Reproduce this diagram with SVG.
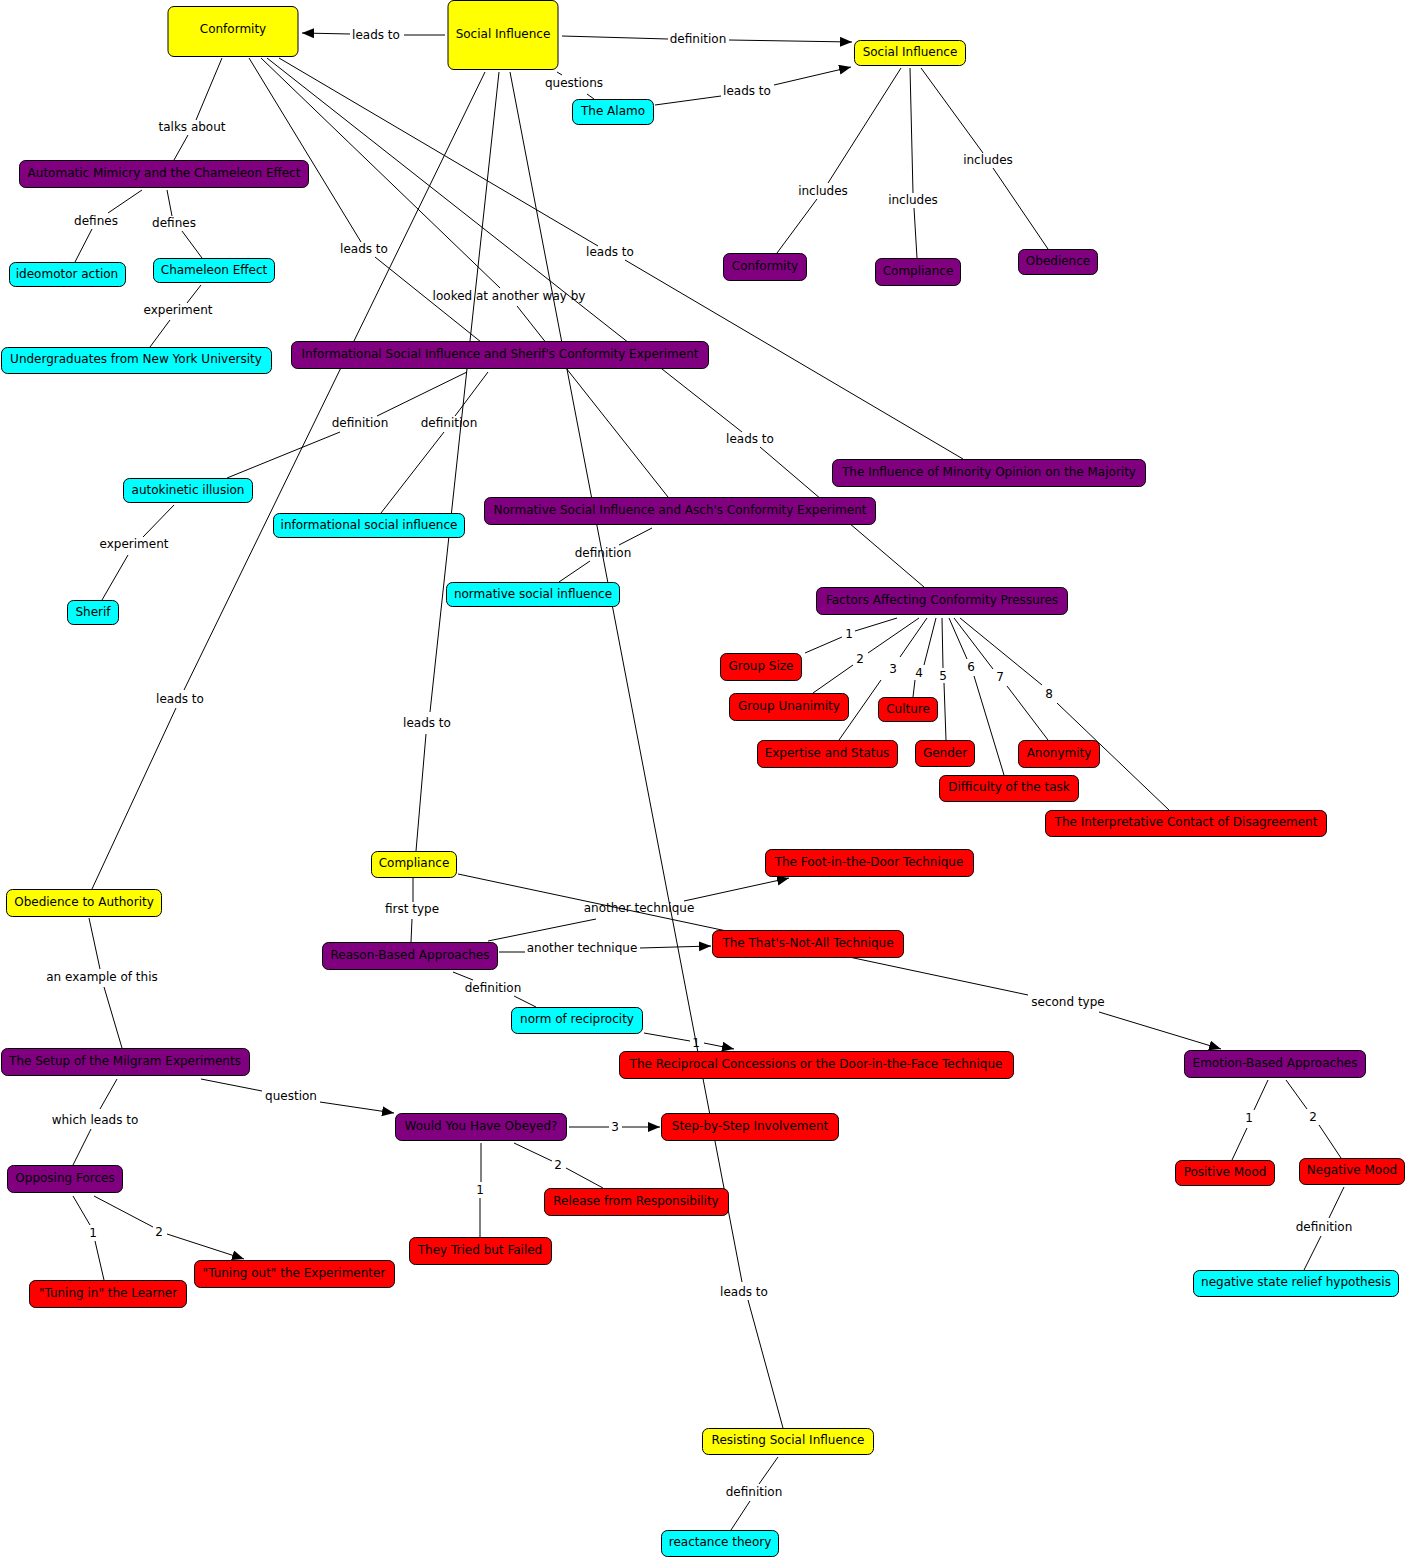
<svg xmlns="http://www.w3.org/2000/svg" width="1407" height="1559" viewBox="0 0 1407 1559">
<style>
text{font-family:"DejaVu Sans",Verdana,sans-serif;font-size:12px;fill:#000}
.n rect{stroke:#000;stroke-width:1}
.n text{text-anchor:middle;transform:translate(0px,-1px)}
.y rect{fill:#ffff00}
.p rect{fill:#800080}
.b rect{fill:#00ffff}
.r rect{fill:#ff0000}
#connectors line{stroke:#000;stroke-width:1}
#connectors text{text-anchor:middle}
.ar{marker-end:url(#arr)}
</style>
<defs>
<marker id="arr" markerUnits="userSpaceOnUse" markerWidth="13" markerHeight="11" refX="12" refY="5" orient="auto">
<path d="M0,0 L12,5 L0,10 z" fill="#000"/>
</marker>
</defs>
<rect width="1407" height="1559" fill="#fff"/>
<g id="connectors">
<line x1="445" y1="35" x2="404" y2="35"/><text x="376" y="39">leads to</text><line class="ar" x1="350" y1="34" x2="302" y2="33"/>
<line x1="562" y1="36" x2="668" y2="39"/><text x="698" y="43">definition</text><line class="ar" x1="729" y1="40" x2="852" y2="42"/>
<line x1="557" y1="72" x2="562" y2="75"/><text x="574" y="87">questions</text><line x1="587" y1="94" x2="594" y2="99"/>
<line x1="655" y1="105" x2="721" y2="96"/><text x="747" y="95">leads to</text><line class="ar" x1="774" y1="85" x2="851" y2="67"/>
<line x1="901" y1="68" x2="828" y2="183"/><text x="823" y="195">includes</text><line x1="817" y1="199" x2="777" y2="253"/>
<line x1="910" y1="68" x2="913" y2="193"/><text x="913" y="204">includes</text><line x1="914" y1="208" x2="917" y2="258"/>
<line x1="921" y1="68" x2="983" y2="153"/><text x="988" y="164">includes</text><line x1="993" y1="168" x2="1048" y2="249"/>
<line x1="222" y1="58" x2="196" y2="120"/><text x="192" y="131">talks about</text><line x1="188" y1="135" x2="174" y2="160"/>
<line x1="142" y1="190" x2="108" y2="213"/><text x="96" y="225">defines</text><line x1="92" y1="229" x2="75" y2="262"/>
<line x1="167" y1="190" x2="172" y2="216"/><text x="174" y="227">defines</text><line x1="182" y1="231" x2="202" y2="258"/>
<line x1="201" y1="285" x2="187" y2="303"/><text x="178" y="314">experiment</text><line x1="170" y1="320" x2="150" y2="347"/>
<line x1="249" y1="58" x2="361" y2="242"/><text x="364" y="253">leads to</text><line x1="375" y1="257" x2="481" y2="342"/>
<line x1="261" y1="58" x2="500" y2="288"/><text x="509" y="300">looked at another way by</text><line x1="517" y1="306" x2="668" y2="497"/>
<line x1="267" y1="58" x2="742" y2="432"/><text x="750" y="443">leads to</text><line x1="760" y1="447" x2="924" y2="587"/>
<line x1="279" y1="58" x2="598" y2="246"/><text x="610" y="256">leads to</text><line x1="625" y1="260" x2="963" y2="459"/>
<line x1="485" y1="72" x2="184" y2="690"/><text x="180" y="703">leads to</text><line x1="176" y1="708" x2="92" y2="889"/>
<line x1="499" y1="72" x2="430" y2="712"/><text x="427" y="727">leads to</text><line x1="426" y1="734" x2="416" y2="851"/>
<line x1="510" y1="72" x2="742" y2="1282"/><text x="744" y="1296">leads to</text><line x1="748" y1="1300" x2="783" y2="1428"/>
<line x1="467" y1="372" x2="377" y2="416"/><text x="360" y="427">definition</text><line x1="340" y1="432" x2="227" y2="478"/>
<line x1="488" y1="372" x2="455" y2="416"/><text x="449" y="427">definition</text><line x1="444" y1="432" x2="381" y2="513"/>
<line x1="174" y1="505" x2="143" y2="537"/><text x="134" y="548">experiment</text><line x1="128" y1="555" x2="102" y2="600"/>
<line x1="652" y1="528" x2="619" y2="545"/><text x="603" y="557">definition</text><line x1="590" y1="561" x2="559" y2="582"/>
<line x1="897" y1="618" x2="855" y2="631"/><text x="849" y="638">1</text><line x1="842" y1="637" x2="805" y2="653"/>
<line x1="919" y1="618" x2="868" y2="653"/><text x="860" y="663">2</text><line x1="853" y1="665" x2="813" y2="693"/>
<line x1="927" y1="618" x2="900" y2="657"/><text x="893" y="673">3</text><line x1="881" y1="680" x2="839" y2="740"/>
<line x1="936" y1="618" x2="924" y2="665"/><text x="919" y="677">4</text><line x1="915" y1="680" x2="913" y2="697"/>
<line x1="942" y1="618" x2="943" y2="668"/><text x="943" y="680">5</text><line x1="944" y1="683" x2="946" y2="740"/>
<line x1="949" y1="618" x2="967" y2="659"/><text x="971" y="671">6</text><line x1="974" y1="676" x2="1004" y2="775"/>
<line x1="954" y1="618" x2="993" y2="669"/><text x="1000" y="681">7</text><line x1="1007" y1="686" x2="1048" y2="740"/>
<line x1="960" y1="618" x2="1042" y2="685"/><text x="1049" y="698">8</text><line x1="1057" y1="703" x2="1169" y2="810"/>
<line x1="413" y1="878" x2="413" y2="902"/><text x="412" y="913">first type</text><line x1="412" y1="919" x2="411" y2="942"/>
<line x1="458" y1="874" x2="1028" y2="995"/><text x="1068" y="1006">second type</text><line class="ar" x1="1099" y1="1012" x2="1221" y2="1049"/>
<line x1="488" y1="941" x2="596" y2="919"/><text x="639" y="912">another technique</text><line class="ar" x1="684" y1="901" x2="789" y2="878"/>
<line x1="499" y1="952" x2="525" y2="952"/><text x="582" y="952">another technique</text><line class="ar" x1="640" y1="948" x2="711" y2="946"/>
<line x1="453" y1="972" x2="473" y2="980"/><text x="493" y="992">definition</text><line x1="514" y1="996" x2="536" y2="1007"/>
<line x1="644" y1="1033" x2="690" y2="1041"/><text x="696" y="1047">1</text><line class="ar" x1="704" y1="1043" x2="734" y2="1049"/>
<line x1="1268" y1="1080" x2="1254" y2="1110"/><text x="1249" y="1122">1</text><line x1="1247" y1="1128" x2="1232" y2="1160"/>
<line x1="1286" y1="1080" x2="1307" y2="1109"/><text x="1313" y="1121">2</text><line x1="1319" y1="1125" x2="1341" y2="1158"/>
<line x1="1344" y1="1187" x2="1329" y2="1218"/><text x="1324" y="1231">definition</text><line x1="1321" y1="1236" x2="1304" y2="1270"/>
<line x1="89" y1="918" x2="100" y2="969"/><text x="102" y="981">an example of this</text><line x1="104" y1="987" x2="122" y2="1048"/>
<line x1="117" y1="1079" x2="100" y2="1109"/><text x="95" y="1124">which leads to</text><line x1="91" y1="1129" x2="73" y2="1165"/>
<line x1="201" y1="1079" x2="262" y2="1091"/><text x="291" y="1100">question</text><line class="ar" x1="320" y1="1102" x2="394" y2="1113"/>
<line x1="73" y1="1196" x2="90" y2="1225"/><text x="93" y="1237">1</text><line x1="95" y1="1241" x2="104" y2="1280"/>
<line x1="94" y1="1196" x2="153" y2="1227"/><text x="159" y="1236">2</text><line class="ar" x1="167" y1="1234" x2="244" y2="1259"/>
<line x1="481" y1="1143" x2="481" y2="1182"/><text x="480" y="1194">1</text><line x1="480" y1="1198" x2="480" y2="1237"/>
<line x1="514" y1="1143" x2="552" y2="1161"/><text x="558" y="1169">2</text><line x1="566" y1="1168" x2="603" y2="1188"/>
<line x1="569" y1="1127" x2="609" y2="1127"/><text x="615" y="1131">3</text><line class="ar" x1="622" y1="1127" x2="660" y2="1127"/>
<line x1="778" y1="1457" x2="759" y2="1484"/><text x="754" y="1496">definition</text><line x1="750" y1="1501" x2="731" y2="1530"/>
</g>
<g id="n-conformity" class="n y"><rect x="168" y="6.5" width="130" height="50" rx="6"/><text x="233" y="34">Conformity</text></g>
<g id="n-social-influence" class="n y"><rect x="448" y="0.5" width="110" height="69" rx="6"/><text x="503" y="39">Social Influence</text></g>
<g id="n-social-influence-2" class="n y"><rect x="854.5" y="40.5" width="111" height="25" rx="6"/><text x="910" y="57">Social Influence</text></g>
<g id="n-compliance-y" class="n y"><rect x="371.5" y="851.5" width="85" height="26" rx="6"/><text x="414" y="868">Compliance</text></g>
<g id="n-obedience-authority" class="n y"><rect x="6.5" y="889.5" width="155" height="27" rx="6"/><text x="84" y="907">Obedience to Authority</text></g>
<g id="n-resisting" class="n y"><rect x="702.5" y="1428.5" width="171" height="26" rx="6"/><text x="788" y="1445">Resisting Social Influence</text></g>
<g id="n-automatic" class="n p"><rect x="19.5" y="160.5" width="289" height="27" rx="6"/><text x="164" y="178">Automatic Mimicry and the Chameleon Effect</text></g>
<g id="n-conformity-p" class="n p"><rect x="723.5" y="253.5" width="83" height="27" rx="6"/><text x="765" y="271">Conformity</text></g>
<g id="n-compliance-p" class="n p"><rect x="875.5" y="258.5" width="85" height="27" rx="6"/><text x="918" y="276">Compliance</text></g>
<g id="n-obedience-p" class="n p"><rect x="1018.5" y="249.5" width="79" height="25" rx="6"/><text x="1058" y="266">Obedience</text></g>
<g id="n-informational-exp" class="n p"><rect x="291.5" y="341.5" width="417" height="27" rx="6"/><text x="500" y="359">Informational Social Influence and Sherif's Conformity Experiment</text></g>
<g id="n-normative-exp" class="n p"><rect x="484.5" y="497.5" width="391" height="27" rx="6"/><text x="680" y="515">Normative Social Influence and Asch's Conformity Experiment</text></g>
<g id="n-minority" class="n p"><rect x="832.5" y="459.5" width="313" height="27" rx="6"/><text x="989" y="477">The Influence of Minority Opinion on the Majority</text></g>
<g id="n-factors" class="n p"><rect x="816.5" y="587.5" width="251" height="27" rx="6"/><text x="942" y="605">Factors Affecting Conformity Pressures</text></g>
<g id="n-reason" class="n p"><rect x="322.5" y="942.5" width="175" height="27" rx="6"/><text x="410" y="960">Reason-Based Approaches</text></g>
<g id="n-emotion" class="n p"><rect x="1184.5" y="1050.5" width="181" height="27" rx="6"/><text x="1275" y="1068">Emotion-Based Approaches</text></g>
<g id="n-setup" class="n p"><rect x="1.5" y="1048.5" width="248" height="27" rx="6"/><text x="125" y="1066">The Setup of the Milgram Experiments</text></g>
<g id="n-would" class="n p"><rect x="395.5" y="1113.5" width="171" height="27" rx="6"/><text x="481" y="1131">Would You Have Obeyed?</text></g>
<g id="n-opposing" class="n p"><rect x="7.5" y="1165.5" width="115" height="27" rx="6"/><text x="65" y="1183">Opposing Forces</text></g>
<g id="n-alamo" class="n b"><rect x="572.5" y="99.5" width="81" height="25" rx="6"/><text x="613" y="116">The Alamo</text></g>
<g id="n-ideomotor" class="n b"><rect x="9.5" y="262.5" width="116" height="24" rx="6"/><text x="67" y="279">ideomotor action</text></g>
<g id="n-chameleon" class="n b"><rect x="153.5" y="258.5" width="121" height="24" rx="6"/><text x="214" y="275">Chameleon Effect</text></g>
<g id="n-undergrad" class="n b"><rect x="1.5" y="347.5" width="270" height="26" rx="6"/><text x="136" y="364">Undergraduates from New York University</text></g>
<g id="n-autokinetic" class="n b"><rect x="123.5" y="478.5" width="129" height="24" rx="6"/><text x="188" y="495">autokinetic illusion</text></g>
<g id="n-informational-si" class="n b"><rect x="273.5" y="513.5" width="191" height="24" rx="6"/><text x="369" y="530">informational social influence</text></g>
<g id="n-normative-si" class="n b"><rect x="446.5" y="582.5" width="173" height="24" rx="6"/><text x="533" y="599">normative social influence</text></g>
<g id="n-sherif" class="n b"><rect x="67.5" y="600.5" width="51" height="24" rx="6"/><text x="93" y="617">Sherif</text></g>
<g id="n-norm" class="n b"><rect x="511.5" y="1007.5" width="131" height="26" rx="6"/><text x="577" y="1024">norm of reciprocity</text></g>
<g id="n-nsrh" class="n b"><rect x="1193.5" y="1270.5" width="205" height="26" rx="6"/><text x="1296" y="1287">negative state relief hypothesis</text></g>
<g id="n-reactance" class="n b"><rect x="661.5" y="1530.5" width="117" height="26" rx="6"/><text x="720" y="1547">reactance theory</text></g>
<g id="n-group-size" class="n r"><rect x="720.5" y="653.5" width="81" height="27" rx="6"/><text x="761" y="671">Group Size</text></g>
<g id="n-group-unanimity" class="n r"><rect x="729.5" y="693.5" width="119" height="27" rx="6"/><text x="789" y="711">Group Unanimity</text></g>
<g id="n-culture" class="n r"><rect x="878.5" y="697.5" width="59" height="24" rx="6"/><text x="908" y="714">Culture</text></g>
<g id="n-expertise" class="n r"><rect x="757.5" y="740.5" width="140" height="27" rx="6"/><text x="827" y="758">Expertise and Status</text></g>
<g id="n-gender" class="n r"><rect x="915.5" y="740.5" width="59" height="26" rx="6"/><text x="945" y="758">Gender</text></g>
<g id="n-anonymity" class="n r"><rect x="1018.5" y="740.5" width="81" height="27" rx="6"/><text x="1059" y="758">Anonymity</text></g>
<g id="n-difficulty" class="n r"><rect x="939.5" y="775.5" width="139" height="26" rx="6"/><text x="1009" y="792">Difficulty of the task</text></g>
<g id="n-interpretative" class="n r"><rect x="1045.5" y="810.5" width="281" height="26" rx="6"/><text x="1186" y="827">The Interpretative Contact of Disagreement</text></g>
<g id="n-foot" class="n r"><rect x="765.5" y="849.5" width="208" height="27" rx="6"/><text x="869" y="867">The Foot-in-the-Door Technique</text></g>
<g id="n-thats" class="n r"><rect x="712.5" y="930.5" width="191" height="27" rx="6"/><text x="808" y="948">The That's-Not-All Technique</text></g>
<g id="n-reciprocal" class="n r"><rect x="619.5" y="1051.5" width="394" height="27" rx="6"/><text x="816" y="1069">The Reciprocal Concessions or the Door-in-the-Face Technique</text></g>
<g id="n-step" class="n r"><rect x="661.5" y="1113.5" width="177" height="27" rx="6"/><text x="750" y="1131">Step-by-Step Involvement</text></g>
<g id="n-release" class="n r"><rect x="544.5" y="1188.5" width="184" height="27" rx="6"/><text x="636" y="1206">Release from Responsibility</text></g>
<g id="n-tried" class="n r"><rect x="409.5" y="1237.5" width="142" height="27" rx="6"/><text x="480" y="1255">They Tried but Failed</text></g>
<g id="n-positive" class="n r"><rect x="1175.5" y="1160.5" width="99" height="25" rx="6"/><text x="1225" y="1177">Positive Mood</text></g>
<g id="n-negative" class="n r"><rect x="1299.5" y="1158.5" width="105" height="26" rx="6"/><text x="1352" y="1175">Negative Mood</text></g>
<g id="n-tuning-out" class="n r"><rect x="194.5" y="1260.5" width="200" height="27" rx="6"/><text x="294" y="1278">"Tuning out" the Experimenter</text></g>
<g id="n-tuning-in" class="n r"><rect x="29.5" y="1280.5" width="157" height="27" rx="6"/><text x="108" y="1298">"Tuning in" the Learner</text></g>
</svg>
